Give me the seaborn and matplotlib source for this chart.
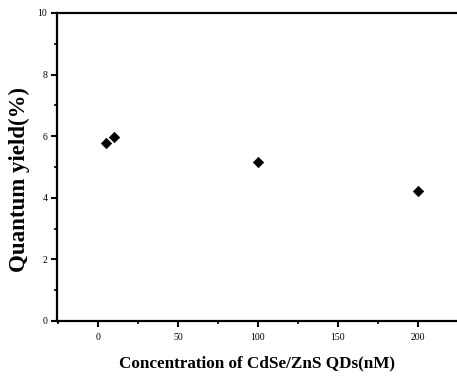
import matplotlib
matplotlib.use("Agg")
import matplotlib.pyplot as plt
from matplotlib.ticker import MultipleLocator
import seaborn as sns
import pandas as pd

# data
concentration = [5, 10, 100, 200]
quantum_yield = [5.78, 5.97, 5.16, 4.22]

df = pd.DataFrame({"conc": concentration, "qy": quantum_yield})

sns.set_style("ticks")
plt.rcParams['font.family'] = ['Liberation Serif', 'DejaVu Serif']
plt.rcParams['text.color'] = 'black'
plt.rcParams['axes.labelcolor'] = 'black'
plt.rcParams['xtick.color'] = 'black'
plt.rcParams['ytick.color'] = 'black'

fig = plt.figure(figsize=(4.57, 3.77), dpi=100)
ax = fig.add_axes([57 / 457, 56 / 377, 400 / 457, 308 / 377])

sns.scatterplot(data=df, x="conc", y="qy", marker="D", color="black",
                s=28, edgecolor="black", linewidth=0.5, ax=ax, zorder=3)

ax.set_xlim(-25.6, 224.4)
ax.set_ylim(0, 10)
ax.xaxis.set_major_locator(MultipleLocator(50))
ax.xaxis.set_minor_locator(MultipleLocator(25))
ax.yaxis.set_major_locator(MultipleLocator(2))
ax.yaxis.set_minor_locator(MultipleLocator(1))
ax.tick_params(which="major", direction="out", length=4, width=1.5, labelsize=7, pad=3)
ax.tick_params(axis="x", which="major", pad=5)
ax.tick_params(which="minor", direction="out", length=2.5, width=1.2)

for side in ["left", "bottom", "top"]:
    ax.spines[side].set_linewidth(1.6)
    ax.spines[side].set_color("black")
ax.spines["right"].set_visible(False)

ax.set_xlabel("Concentration of CdSe/ZnS QDs(nM)", fontsize=12.3, fontweight="bold", labelpad=9)
ax.set_ylabel("Quantum yield(%)", fontsize=16.5, fontweight="bold")
ax.yaxis.set_label_coords(-0.067, 0.458)

fig.savefig("out.png", dpi=100)
